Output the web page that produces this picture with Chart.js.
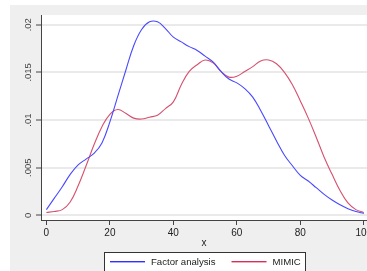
<!DOCTYPE html>
<html>
<head>
<meta charset="utf-8">
<script src="https://cdn.jsdelivr.net/npm/chart.js@4.4.1/dist/chart.umd.min.js"></script>
<style>
  html, body { margin: 0; padding: 0; background: #fff; }
  #wrap { width: 367px; height: 271px; }
</style>
</head>
<body>
<div id="wrap"><canvas id="density" width="367" height="271"></canvas></div>
<script>
// kernel density estimates
const xValues = [0, 2.5, 5, 7.5, 10, 12.5, 15, 17.5, 20, 22.5, 25, 27.5, 30, 32.5, 35, 37.5, 40,
  42.5, 45, 47.5, 50, 52.5, 55, 57.5, 60, 62.5, 65, 67.5, 70, 72.5, 75, 77.5, 80,
  82.5, 85, 87.5, 90, 92.5, 95, 97.5, 100];
const factorAnalysis = [0.0006, 0.0018, 0.0030, 0.0043, 0.0053, 0.0059, 0.0065, 0.0076, 0.0098, 0.0125,
  0.0152, 0.0178, 0.0195, 0.0203, 0.0203, 0.0196, 0.0187, 0.0182, 0.0177, 0.0173,
  0.0167, 0.0161, 0.0151, 0.0143, 0.0139, 0.0133, 0.0124, 0.0110, 0.0094, 0.0078,
  0.0063, 0.0052, 0.0042, 0.0036, 0.0029, 0.0022, 0.0016, 0.0011, 0.0007, 0.0004, 0.0002];
const mimic = [0.0003, 0.0004, 0.0006, 0.0014, 0.0031, 0.0052, 0.0074, 0.0093, 0.0106, 0.0111,
  0.0107, 0.0102, 0.0101, 0.0103, 0.0105, 0.0112, 0.0119, 0.0137, 0.0151, 0.0158,
  0.0163, 0.0160, 0.0151, 0.0145, 0.0146, 0.0151, 0.0156, 0.0162, 0.0163, 0.0159,
  0.0150, 0.0137, 0.0120, 0.0102, 0.0082, 0.0061, 0.0043, 0.0026, 0.0013, 0.0006, 0.0003];
const seriesNames = ['Factor analysis', 'MIMIC'];
const xTicks = [0, 20, 40, 60, 80, 100];
const yTicks = [0, 0.005, 0.01, 0.015, 0.02];
const yTickLabels = ['0', '.005', '.01', '.015', '.02'];

const FONT = '"Liberation Sans", Arial, sans-serif';
const seriesColors = ['#4848ff', '#d6506e'];
const legendColors = ['#3030ff', '#d8305a'];

// stata-ish frame: grey backdrop, white plot region, rotated y labels, boxed legend
const stataFrame = {
  id: 'stataFrame',
  beforeDraw(chart) {
    const { ctx, chartArea: a, width, height } = chart;
    ctx.save();
    ctx.fillStyle = '#fff';
    ctx.fillRect(0, 0, width, height);
    ctx.fillStyle = '#efefef';
    ctx.fillRect(10, 5, width - 10, height - 5);
    ctx.fillStyle = '#fff';
    ctx.fillRect(a.left, a.top, a.right - a.left, a.bottom - a.top);
    ctx.restore();
  },
  afterDraw(chart) {
    const { ctx } = chart;
    const ys = chart.scales.y;
    ctx.save();
    ctx.font = '9.5px ' + FONT;
    ctx.fillStyle = '#444';
    ctx.textAlign = 'center';
    ctx.textBaseline = 'middle';
    yTicks.forEach((v, i) => {
      ctx.save();
      ctx.translate(28, ys.getPixelForValue(v));
      ctx.rotate(-Math.PI / 2);
      ctx.fillText(yTickLabels[i], 0, 0);
      ctx.restore();
    });

    // legend
    ctx.fillStyle = '#fff';
    ctx.fillRect(104.5, 252.5, 201, 20);
    ctx.strokeStyle = '#333';
    ctx.lineWidth = 1;
    ctx.strokeRect(104.5, 252.5, 201, 20);
    ctx.font = '9.6px ' + FONT;
    ctx.textAlign = 'left';
    ctx.textBaseline = 'middle';
    const ly = 261;
    let lx = 110;
    seriesNames.forEach((name, i) => {
      ctx.fillStyle = legendColors[i];
      ctx.fillRect(lx, ly, 35, 1.4);
      ctx.fillStyle = '#222';
      ctx.fillText(name, lx + 41, ly + 1);
      lx += 41 + ctx.measureText(name).width + 16;
    });
    ctx.restore();
  }
};

new Chart(document.getElementById('density'), {
  type: 'line',
  data: {
    datasets: [
      {
        label: seriesNames[0],
        data: xValues.map((x, i) => ({ x, y: factorAnalysis[i] })),
        borderColor: seriesColors[0],
        borderWidth: 1.1,
        pointRadius: 0,
        tension: 0.4,
        fill: false
      },
      {
        label: seriesNames[1],
        data: xValues.map((x, i) => ({ x, y: mimic[i] })),
        borderColor: seriesColors[1],
        borderWidth: 1.1,
        pointRadius: 0,
        tension: 0.4,
        fill: false
      }
    ]
  },
  options: {
    responsive: false,
    animation: false,
    devicePixelRatio: 1,
    layout: { padding: { top: 15, right: 0, left: 0, bottom: 0 } },
    plugins: { legend: { display: false }, tooltip: { enabled: false } },
    scales: {
      x: {
        type: 'linear',
        min: -1.7,
        max: 101,
        afterBuildTicks: s => { s.ticks = xTicks.map(v => ({ value: v })); },
        afterFit: s => { s.height = 51; s.paddingLeft = 0; s.paddingRight = 0; },
        grid: { drawOnChartArea: false, drawTicks: true, tickLength: 5, tickColor: '#444', tickWidth: 1 },
        border: { color: '#444', width: 1 },
        ticks: { color: '#222', font: { size: 10, family: FONT }, padding: 2, maxRotation: 0, autoSkip: false,
                 callback: v => String(v) },
        title: { display: true, text: 'x', color: '#222', font: { size: 10, family: FONT },
                 padding: { top: 0, bottom: 22 } }
      },
      y: {
        min: -0.00049,
        max: 0.02102,
        afterBuildTicks: s => { s.ticks = yTicks.map(v => ({ value: v })); },
        afterFit: s => { s.width = 41; s.paddingTop = 0; s.paddingBottom = 0; },
        grid: { color: '#eaeaea', lineWidth: 2, drawTicks: true, tickLength: 5, tickColor: '#444', tickWidth: 1 },
        border: { color: '#444', width: 1 },
        ticks: { color: 'rgba(0,0,0,0)', font: { size: 9.5, family: FONT } }
      }
    }
  },
  plugins: [stataFrame]
});
</script>
</body>
</html>
